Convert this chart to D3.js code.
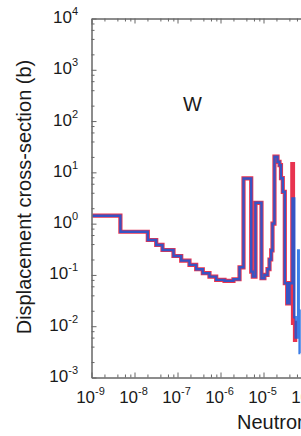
<!DOCTYPE html>
<html>
<head>
<meta charset="utf-8">
<script src="https://cdn.jsdelivr.net/npm/d3@7"></script>
<style>
  body { margin: 0; background: #fff; }
  text { font-family: "Liberation Sans", Arial, sans-serif; fill: #1a1a1a; }
</style>
</head>
<body>
<div id="chart"></div>
<script>
// decades shown on the axes (exponents of 10)
var xDecades = [-9, -8, -7, -6, -5, -4, -3, -2, -1, 0, 1];
var yDecades = [-3, -2, -1, 0, 1, 2, 3, 4];

// step curve: energy (MeV) where each step starts, and cross-section (b) on that step
var commonE  = [1.05e-9, 4.7e-9, 2.04e-8, 3.2e-8, 4.48e-8, 8.07e-8, 1.22e-7, 1.9e-7, 2.72e-7, 3.88e-7,
                5.54e-7, 7.94e-7, 1.24e-6, 2.0e-6, 2.77e-6, 3.43e-6, 5.18e-6, 5.64e-6, 6.51e-6, 8.98e-6,
                1.05e-5, 1.24e-5, 1.38e-5, 1.51e-5, 1.62e-5, 1.80e-5, 2.12e-5, 2.36e-5, 2.55e-5, 2.81e-5,
                3.13e-5, 3.56e-5, 4.02e-5];
var commonXS = [1.43, 0.695, 0.48, 0.384, 0.306, 0.234, 0.19, 0.157, 0.129, 0.108,
                0.0927, 0.080, 0.0764, 0.0824, 0.141, 7.6, 0.116, 0.0927, 2.55, 0.0863,
                0.1, 0.13, 0.2, 0.3, 1.0, 20.2, 16, 13.8, 7.7, 4.18,
                0.069, 0.028, 0.069];

// where the two evaluations part
var redTailE   = [4.68e-5, 4.85e-5, 5.4e-5, 6.1e-5];
var redTailXS  = [14.5, 0.0116, 0.0054, 0.0054];
var blueTailE  = [4.72e-5, 5.2e-5, 5.6e-5, 6.4e-5, 6.6e-5, 6.9e-5, 7.2e-5];
var blueTailXS = [3.1, 0.015, 0.006, 0.3, 0.02, 0.003, 0.003];

var width = 301, height = 436;
var plotLeft = 91.5, plotTop = 18.5, plotBottom = 377.5;
var plotRight = plotLeft + 43 * 10;

var x = d3.scaleLog().domain([1e-9, 1e1]).range([plotLeft, plotRight]);
var y = d3.scaleLog().domain([1e-3, 1e4]).range([plotBottom, plotTop]);

var majorX = xDecades.map(function(d) { return Math.pow(10, d); });
var majorY = yDecades.map(function(d) { return Math.pow(10, d); });
var minorX = [], minorY = [];
xDecades.slice(0, -1).forEach(function(d) {
    [2, 4, 6, 8].forEach(function(m) { minorX.push(m * Math.pow(10, d)); });
});
yDecades.slice(0, -1).forEach(function(d) {
    [2, 4, 6, 8].forEach(function(m) { minorY.push(m * Math.pow(10, d)); });
});

var svg = d3.select("#chart").append("svg")
            .attr("width", width)
            .attr("height", height);

svg.append("defs").append("clipPath").attr("id", "plot")
   .append("rect")
   .attr("x", plotLeft).attr("y", plotTop)
   .attr("width", plotRight - plotLeft).attr("height", plotBottom - plotTop);

function series(es, vs) {
    return es.map(function(e, i) { return { e: e, v: vs[i] }; });
}
var red  = series(commonE.concat(redTailE),  commonXS.concat(redTailXS));
var blue = series(commonE.concat(blueTailE), commonXS.concat(blueTailXS));

var line = d3.line()
             .x(function(d) { return x(d.e); })
             .y(function(d) { return y(d.v); })
             .curve(d3.curveStepAfter);

var g = svg.append("g").attr("clip-path", "url(#plot)");
g.append("path").datum(red)
 .attr("d", line)
 .attr("fill", "none")
 .attr("stroke", "#e8334f")
 .attr("stroke-width", 4.2);
g.append("path").datum(blue)
 .attr("d", line)
 .attr("fill", "none")
 .attr("stroke", "#0a5ce0")
 .attr("stroke-opacity", 0.8)
 .attr("stroke-width", 2.4);

// axes, ticks pointing inward
function drawAxis(axisFn, scale, pos, transform) {
    var major = axisFn(scale).tickValues(pos === "x" ? majorX : majorY)
                    .tickSize(-5).tickSizeOuter(0).tickFormat("");
    var minor = axisFn(scale).tickValues(pos === "x" ? minorX : minorY)
                    .tickSize(-3).tickSizeOuter(0).tickFormat("");
    var a = svg.append("g").attr("transform", transform).call(major);
    var b = svg.append("g").attr("transform", transform).call(minor);
    [a, b].forEach(function(s) {
        s.selectAll("path, line").attr("stroke", "#666").attr("stroke-width", 1);
        s.selectAll("text").remove();
    });
}
drawAxis(d3.axisBottom, x, "x", "translate(0," + plotBottom + ")");
drawAxis(d3.axisTop, x, "x", "translate(0," + plotTop + ")");
drawAxis(d3.axisLeft, y, "y", "translate(" + plotLeft + ",0)");
drawAxis(d3.axisRight, y, "y", "translate(" + plotRight + ",0)");

// tick labels 10^n (only the ones that fall in the window)
var shownX = xDecades.filter(function(d) { return x(Math.pow(10, d)) < width + 10; });
var xl = svg.selectAll(".xlab").data(shownX).enter().append("text")
            .attr("class", "xlab")
            .attr("x", function(d) { return x(Math.pow(10, d)) - 1; })
            .attr("y", plotBottom + 25.5)
            .attr("text-anchor", "middle");
xl.append("tspan").attr("font-size", 17).text("10");
xl.append("tspan").attr("font-size", 11).attr("dy", -8).text(function(d) { return d; });

var yl = svg.selectAll(".ylab").data(yDecades).enter().append("text")
            .attr("class", "ylab")
            .attr("x", 78)
            .attr("y", function(d) { return y(Math.pow(10, d)) + 4.5; })
            .attr("text-anchor", "end");
yl.append("tspan").attr("font-size", 17).text("10");
yl.append("tspan").attr("font-size", 11).attr("dy", -8).text(function(d) { return d; });

svg.append("text")
   .attr("transform", "translate(31,197) rotate(-90)")
   .attr("text-anchor", "middle")
   .attr("font-size", 20)
   .text("Displacement cross-section (b)");

svg.append("text")
   .attr("x", 237)
   .attr("y", 429)
   .attr("font-size", 20)
   .text("Neutron energy (MeV)");

svg.append("text")
   .attr("x", 183)
   .attr("y", 111)
   .attr("font-size", 20)
   .text("W");
</script>
</body>
</html>
